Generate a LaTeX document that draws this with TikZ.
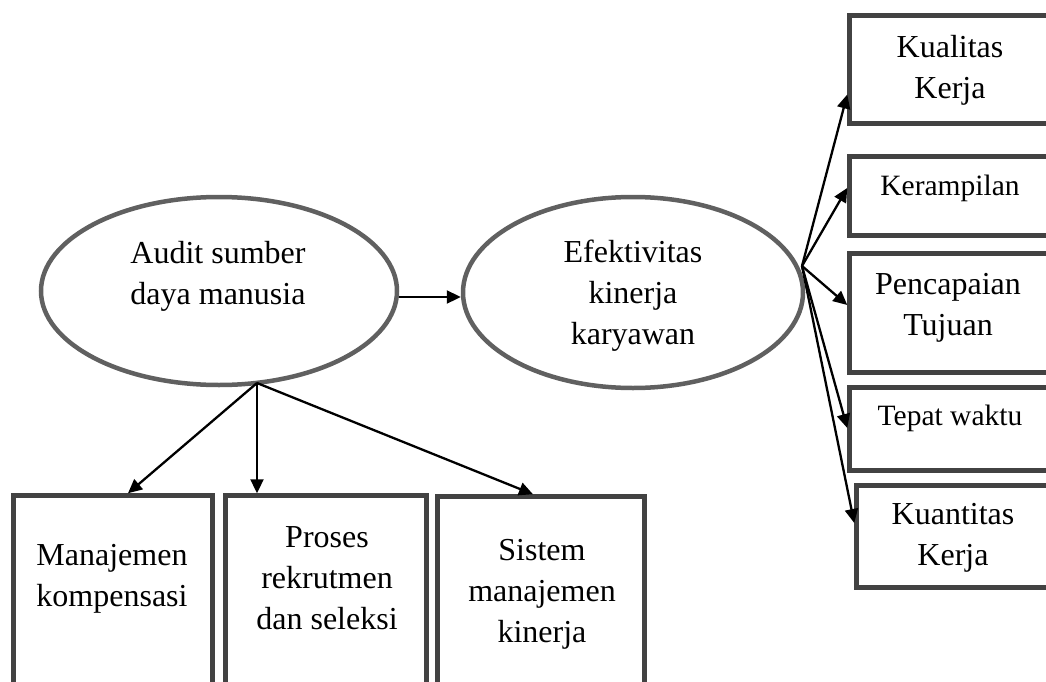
\documentclass[tikz,border=0pt]{standalone}
\usepackage{fontspec}
\setmainfont{Liberation Serif}
\usetikzlibrary{shapes.geometric,arrows.meta,calc}
\definecolor{boxgray}{RGB}{66,66,66}
\definecolor{ellgray}{RGB}{96,96,96}
\tikzset{
  ellnode/.style={ellipse,draw=ellgray,line width=4.5pt,inner sep=0pt},
  boxnode/.style={rectangle,draw=boxgray,line width=4.5pt,inner sep=0pt},
  bigtext/.style={align=center,font=\fontsize{32}{41}\selectfont,inner sep=0pt},
  smalltext/.style={align=center,font=\fontsize{29.5}{39}\selectfont,inner sep=0pt},
  arr/.style={line width=2.3pt,-{Triangle[length=14pt,width=13pt]}},
}
\begin{document}
\begin{tikzpicture}[x=1pt,y=-1pt]
\useasboundingbox (0,0) rectangle (1046,682);
\clip (0,0) rectangle (1046,682);
% ellipses
\node[ellnode,minimum width=356pt,minimum height=188pt] (audit) at (219,291) {};
\node[bigtext] (audittext) at (218,276) {Audit sumber\\daya manusia};
\node[ellnode,minimum width=340pt,minimum height=191pt] (efek) at (633,292.5) {};
\node[bigtext] (efektext) at (633,296) {Efektivitas\\kinerja\\karyawan};
% bottom boxes
\node[boxnode,minimum width=199pt,minimum height=204.5pt] (komp) at (113,597.75) {};
\node[bigtext] (komptext) at (112,579) {Manajemen\\kompensasi};
\node[boxnode,minimum width=201pt,minimum height=204.5pt] (rekr) at (326,597.75) {};
\node[bigtext] (rekrtext) at (327,578) {Proses\\rekrutmen\\dan seleksi};
\node[boxnode,minimum width=207pt,minimum height=203.5pt] (sist) at (541,598.25) {};
\node[bigtext] (sisttext) at (542,594) {Sistem\\manajemen\\kinerja};
% right boxes
\node[boxnode,minimum width=210.5pt,minimum height=108pt] (kual) at (954.75,69.5) {};
\node[bigtext] (kualtext) at (950,70) {Kualitas\\Kerja};
\node[boxnode,minimum width=210.5pt,minimum height=79pt] (keram) at (954.75,196) {};
\node[smalltext] (keramtext) at (950,188) {Kerampilan};
\node[boxnode,minimum width=210.5pt,minimum height=119pt] (penc) at (954.75,313) {};
\node[bigtext] (penctext) at (948,308) {Pencapaian\\Tujuan};
\node[boxnode,minimum width=210.5pt,minimum height=83pt] (tepat) at (954.75,429) {};
\node[smalltext] (tepattext) at (950,418) {Tepat waktu};
\node[boxnode,minimum width=203.5pt,minimum height=102pt] (kuan) at (958.25,536.5) {};
\node[bigtext] (kuantext) at (953,538) {Kuantitas\\Kerja};
% hubs
\coordinate (hubA) at (257,383);
\coordinate (hubB) at (802,266);
% connectors
\draw[arr] (audit.east |- 0,297) -- (efek.west |- 0,297);
\draw[arr] (hubA) -- ([xshift=15pt]komp.north);
\draw[arr] (hubA) -- ([xshift=-69pt]rekr.north);
\draw[arr] (hubA) -- ([xshift=-8pt]sist.north);
\draw[arr] (hubB) -- ([yshift=-25pt]kual.west);
\draw[arr] (hubB) -- ([yshift=8pt]keram.west);
\draw[arr] (hubB) -- ([yshift=8pt]penc.west);
\draw[arr] (hubB) -- ([yshift=1pt]tepat.west);
\draw[arr] (hubB) -- ([yshift=13.5pt]kuan.west);
\end{tikzpicture}
\end{document}
